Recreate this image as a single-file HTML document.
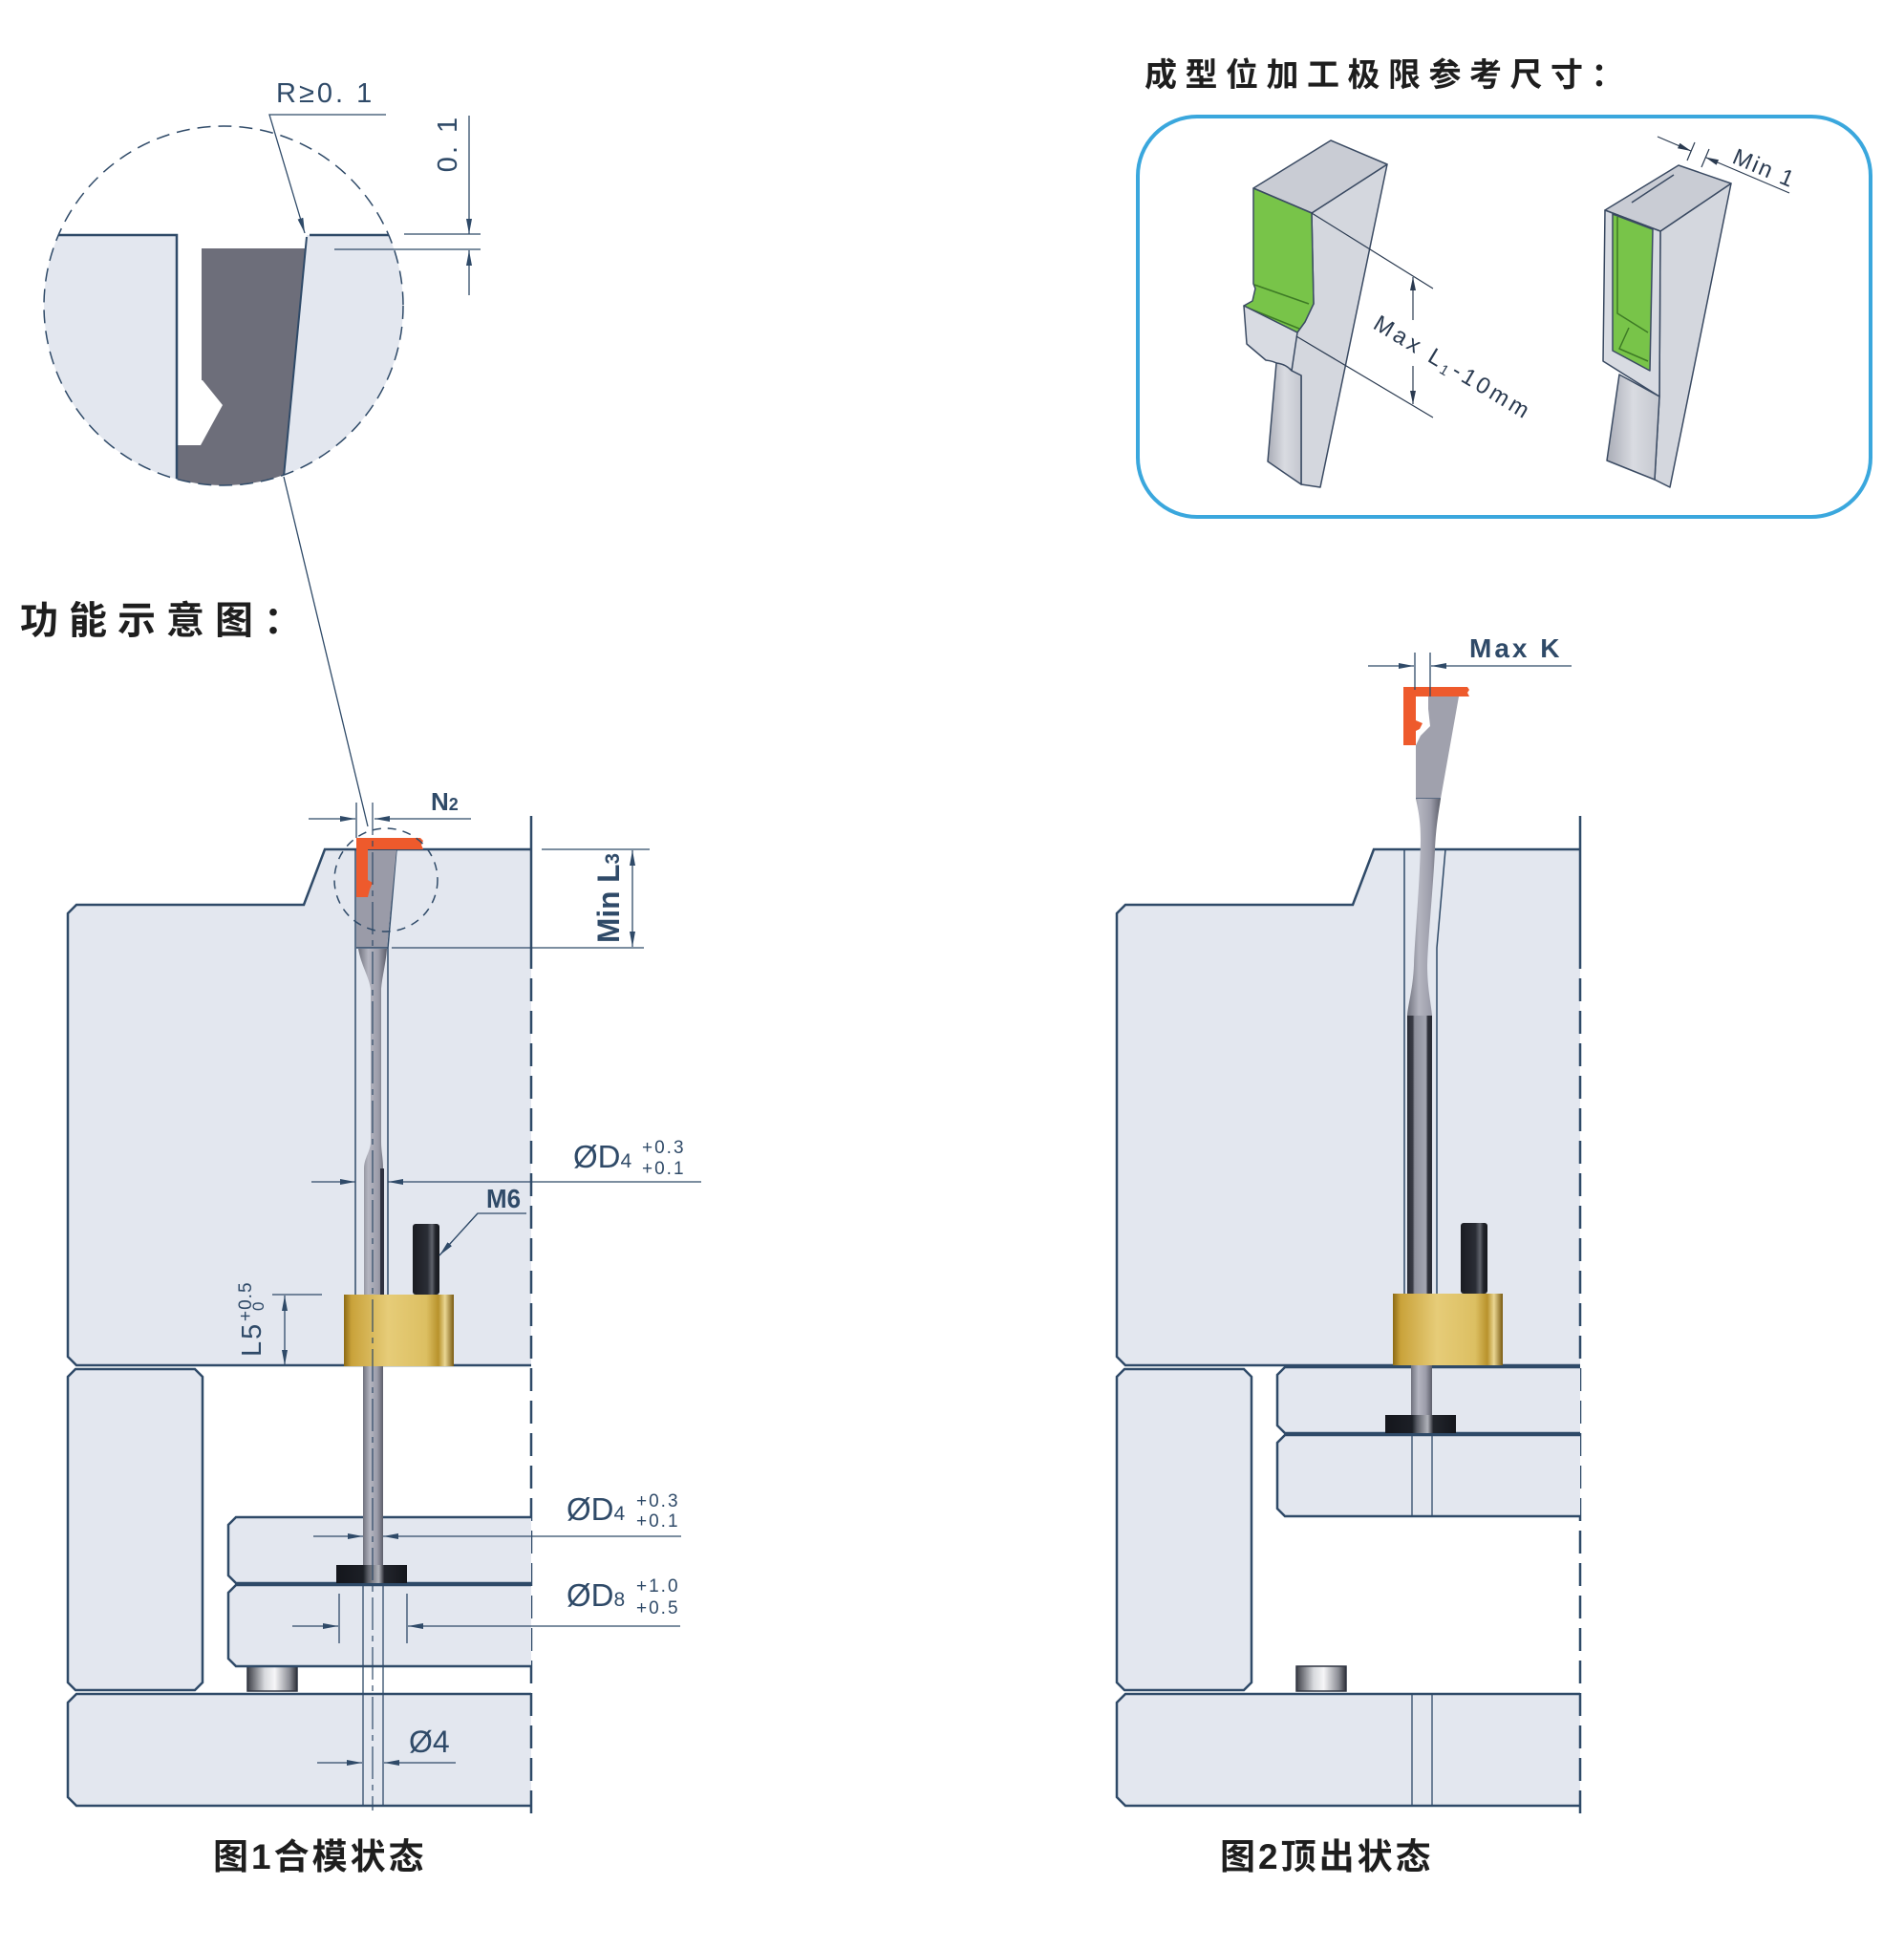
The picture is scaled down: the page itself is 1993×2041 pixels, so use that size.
<!DOCTYPE html>
<html><head><meta charset="utf-8"><style>
html,body{margin:0;padding:0;background:#fff;}
svg{display:block;}
</style></head><body>
<svg width="1993" height="2041" viewBox="0 0 1993 2041" xmlns="http://www.w3.org/2000/svg" font-family="'Liberation Sans','Noto Sans CJK SC',sans-serif">
<defs>
<marker id="ar" viewBox="0 0 16 6" refX="16" refY="3" markerWidth="16" markerHeight="6" markerUnits="userSpaceOnUse" orient="auto"><path d="M0,0 L16,3 L0,6 Z" fill="#2f4a68"/></marker>
<marker id="ar2" viewBox="0 0 14 6" refX="14" refY="3" markerWidth="14" markerHeight="6" markerUnits="userSpaceOnUse" orient="auto"><path d="M0,0 L14,3 L0,6 Z" fill="#2a3a50"/></marker>
<linearGradient id="gold" x1="0" x2="1" y1="0" y2="0">
 <stop offset="0" stop-color="#8c6a14"/><stop offset="0.07" stop-color="#c9a23a"/><stop offset="0.4" stop-color="#e6cc78"/><stop offset="0.75" stop-color="#dcbf62"/><stop offset="0.86" stop-color="#b8922c"/><stop offset="0.92" stop-color="#ead692"/><stop offset="1" stop-color="#7a5a10"/>
</linearGradient>
<linearGradient id="bolt" x1="0" x2="1"><stop offset="0" stop-color="#1a1c22"/><stop offset="0.55" stop-color="#2a2d35"/><stop offset="0.72" stop-color="#60636c"/><stop offset="0.85" stop-color="#22252c"/><stop offset="1" stop-color="#15171c"/></linearGradient>
<linearGradient id="pin" x1="0" x2="1"><stop offset="0" stop-color="#6f717d"/><stop offset="0.35" stop-color="#b4b5c0"/><stop offset="0.7" stop-color="#9c9daa"/><stop offset="1" stop-color="#5c5e6a"/></linearGradient>
<linearGradient id="rod" x1="0" x2="1"><stop offset="0" stop-color="#2a2c35"/><stop offset="0.22" stop-color="#3a3c46"/><stop offset="0.3" stop-color="#8e909c"/><stop offset="0.75" stop-color="#a4a6b2"/><stop offset="0.83" stop-color="#2e3039"/><stop offset="1" stop-color="#2a2c35"/></linearGradient>
<linearGradient id="head" x1="0" x2="1"><stop offset="0" stop-color="#14161c"/><stop offset="0.38" stop-color="#1c1f26"/><stop offset="0.45" stop-color="#5a5d66"/><stop offset="0.6" stop-color="#b0b2ba"/><stop offset="0.68" stop-color="#22252c"/><stop offset="1" stop-color="#14161c"/></linearGradient>
<linearGradient id="stopg" x1="0" x2="1"><stop offset="0" stop-color="#3c3e46"/><stop offset="0.35" stop-color="#d8dade"/><stop offset="0.55" stop-color="#f6f6f8"/><stop offset="0.85" stop-color="#8a8c94"/><stop offset="1" stop-color="#2e3038"/></linearGradient>
<linearGradient id="shank" x1="0" x2="1"><stop offset="0" stop-color="#a9acb6"/><stop offset="0.5" stop-color="#d9dbe1"/><stop offset="1" stop-color="#c4c7cf"/></linearGradient>
<clipPath id="cc"><circle cx="234" cy="320" r="188"/></clipPath>

<g id="blk">
 <path d="M556,889 L340,889 L318,947 L80,947 L71,956 L71,1420 L80,1429 L556,1429 Z" fill="#e3e7ef"/>
 <path d="M556,889 L340,889 L318,947 L80,947 L71,956 L71,1420 L80,1429 L556,1429" fill="none" stroke="#2f4a68" stroke-width="2.5"/>
 <path d="M79,1433 L204,1433 L212,1441 L212,1761 L204,1769 L79,1769 L71,1761 L71,1441 Z" fill="#e3e7ef" stroke="#2f4a68" stroke-width="2.5"/>
 <path d="M556,1773 L80,1773 L71,1782 L71,1881 L80,1890 L556,1890 Z" fill="#e3e7ef"/>
 <path d="M556,1773 L80,1773 L71,1782 L71,1881 L80,1890 L556,1890" fill="none" stroke="#2f4a68" stroke-width="2.5"/>
 <line x1="556" y1="854" x2="556" y2="990" stroke="#2f4a68" stroke-width="2.5"/>
 <line x1="556" y1="990" x2="556" y2="1905" stroke="#2f4a68" stroke-width="2.5" stroke-dasharray="24 10"/>
 <path d="M372,889 V1355 M415,889 L406,992 V1355" stroke="#2f4a68" stroke-width="1.5" fill="none"/>
 <rect x="259" y="1744" width="52" height="26" fill="url(#stopg)" stroke="#2f3440" stroke-width="1.5"/>
</g>
<g id="plt">
 <path d="M556,1588 L247,1588 L239,1596 L239,1649 L247,1657 L556,1657 Z" fill="#e3e7ef"/>
 <path d="M556,1588 L247,1588 L239,1596 L239,1649 L247,1657 L556,1657" fill="none" stroke="#2f4a68" stroke-width="2.5"/>
 <path d="M556,1659 L247,1659 L239,1667 L239,1736 L247,1744 L556,1744 Z" fill="#e3e7ef"/>
 <path d="M556,1659 L247,1659 L239,1667 L239,1736 L247,1744 L556,1744" fill="none" stroke="#2f4a68" stroke-width="2.5"/>
</g>
</defs>

<!-- ============ Detail circle (top-left) ============ -->
<g clip-path="url(#cc)">
 <path d="M30,246 L185,246 L185,520 L30,520 Z" fill="#e3e7ef"/>
 <path d="M321,246 L440,246 L440,520 L295,520 Z" fill="#e3e7ef"/>
 <path d="M211,260 L319.7,260 L295,520 L185,520 L185,466 L210,466 L233,424 L212,398 L211,398 Z" fill="#6d6e7a"/>
 <path d="M61,246 H185 V520" fill="none" stroke="#2f4a68" stroke-width="2.5"/>
 <path d="M324,246 H412" fill="none" stroke="#2f4a68" stroke-width="2.5"/>
 <path d="M321,248 L295,520" fill="none" stroke="#2f4a68" stroke-width="2"/>
</g>
<circle cx="234" cy="320" r="188" fill="none" stroke="#2f4a68" stroke-width="1.5" stroke-dasharray="14 8"/>
<path d="M404,120 H282 L319,244" fill="none" stroke="#2f4a68" stroke-width="1.3" marker-end="url(#ar)"/>
<path d="M423,245 H503 M350,261 H503" fill="none" stroke="#2f4a68" stroke-width="1.3"/>
<line x1="491" y1="121" x2="491" y2="245" stroke="#2f4a68" stroke-width="1.3" marker-end="url(#ar)"/>
<line x1="491" y1="309" x2="491" y2="262" stroke="#2f4a68" stroke-width="1.3" marker-end="url(#ar)"/>
<text x="289" y="107" font-size="29" fill="#2f4a68" letter-spacing="3">R≥0. 1</text>
<text transform="translate(478,150) rotate(-90)" text-anchor="middle" font-size="29" fill="#2f4a68" letter-spacing="3">0. 1</text>
<line x1="297" y1="499" x2="385" y2="865" stroke="#2f4a68" stroke-width="1.3"/>

<!-- Titles -->
<text x="21" y="663" font-size="40" font-weight="bold" fill="#1e1e1e" letter-spacing="11">功能示意图：</text>
<text x="1198" y="90" font-size="34" font-weight="bold" fill="#1e1e1e" letter-spacing="8.5">成型位加工极限参考尺寸：</text>

<!-- ============ Blue box with 3D parts ============ -->
<rect x="1191" y="122" width="767" height="419" rx="62" ry="62" fill="#fff" stroke="#3aa7dd" stroke-width="4"/>

<g stroke="#3a4a62" stroke-width="1.5" stroke-linejoin="round">
 <path d="M1373,223 L1452,172 L1382,510 L1362,507 L1362,393 L1352,388 L1357,348 L1375,318 Z" fill="#d4d7de"/>
 <path d="M1312,197 L1393,147 L1452,172 L1373,223 Z" fill="#c9ccd4"/>
 <path d="M1312,197 L1373,223 L1375,318 L1366,337 L1358,348 L1302,320 L1311,315 L1314,302 L1312,297 Z" fill="#78c449"/>
 <path d="M1313,298 L1370,318" fill="none" stroke="#3d7a25"/>
 <path d="M1303,321 L1360,344" fill="none" stroke="#3d7a25"/>
 <path d="M1302,320 L1358,348 L1352,388 L1343,384 Q1335,378 1325,377 L1305,360 Z" fill="#d8dbe2"/>
 <path d="M1336,380 Q1346,381 1352,388 L1362,393 L1362,507 L1327,483 Z" fill="url(#shank)"/>
</g>
<g stroke="#3a4a62" stroke-width="1.5" stroke-linejoin="round">
 <path d="M1738,242 L1812,192 L1748,510 L1732,502 L1737,415 Z" fill="#d4d7de"/>
 <path d="M1680,220 L1757,173 L1812,192 L1738,242 Z" fill="#c9ccd4"/>
 <path d="M1680,220 L1738,242 L1737,415 L1678,378 Z" fill="#d8dbe2"/>
 <path d="M1688,224 L1730,240 L1727,388 L1688,367 Z" fill="#78c449"/>
 <path d="M1693,227 L1693,328 L1725,348 M1705,343 L1695,365 L1725,378" fill="none" stroke="#3d7a25"/>
 <path d="M1695,392 L1737,415 L1732,502 L1682,482 Z" fill="url(#shank)"/>
 <path d="M1708,212 L1752,183" fill="none"/>
</g>
<!-- 3D dims -->
<g stroke="#2a3a50" stroke-width="1.2" fill="none">
 <path d="M1373,223 L1500,302 M1357,352 L1500,437"/>
 <line x1="1479" y1="335" x2="1479" y2="290" marker-end="url(#ar2)"/>
 <line x1="1479" y1="383" x2="1479" y2="423" marker-end="url(#ar2)"/>
 <line x1="1735" y1="143" x2="1770" y2="158" marker-end="url(#ar2)"/>
 <line x1="1873" y1="202" x2="1785" y2="164.5" marker-end="url(#ar2)"/>
 <path d="M1766,168 L1774,149 M1781,175 L1789,156"/>
</g>
<text transform="translate(1436,343) rotate(31)" font-size="24" fill="#2a3a50" textLength="185" lengthAdjust="spacing">Max  L<tspan font-size="15" dy="4">1</tspan><tspan dy="-4">-10mm</tspan></text>
<text transform="translate(1812,170) rotate(23)" font-size="24" fill="#2a3a50" letter-spacing="2">Min 1</text>

<!-- ============ LEFT FIGURE ============ -->
<use href="#blk"/>
<use href="#plt"/>
<path d="M380,1659 V1890 M401,1659 V1890" stroke="#2f4a68" stroke-width="1.3" fill="none"/>
<path d="M373,890 L415,890 L405,992 L373,992 Z" fill="#9a9ba8"/>
<line x1="373" y1="992" x2="406" y2="992" stroke="#2f4a68" stroke-width="1.5"/>
<path d="M375,993 C378,1010 386,1022 388,1035 L388,1195 C388,1205 381,1212 381,1223 L381,1355 L401,1355 L401,1223 C401,1212 399,1205 399,1195 L399,1035 C400,1022 404,1008 405,993 Z" fill="url(#pin)"/>
<rect x="398" y="1223" width="4" height="132" fill="#2e3140"/>
<path d="M373,877 L440,877 L443,880 L441,884 L443,889 L385,889 L385,921 L390,924 L387,931 L385,939 L373,939 Z" fill="#ee5a2c"/>
<circle cx="404" cy="921" r="54" fill="none" stroke="#2f4a68" stroke-width="1.5" stroke-dasharray="9 7"/>
<rect x="380" y="1430" width="21" height="208" fill="url(#pin)"/>
<rect x="352" y="1638" width="74" height="19" fill="url(#head)"/>
<rect x="432" y="1281" width="28" height="74" rx="3" fill="url(#bolt)"/>
<rect x="360" y="1355" width="115" height="75" fill="url(#gold)"/>
<line x1="390" y1="840" x2="390" y2="1895" stroke="#2f4a68" stroke-width="1.2" stroke-dasharray="34 6 6 6"/>

<g stroke="#2f4a68" stroke-width="1.3" fill="none">
 <line x1="373" y1="840" x2="373" y2="877"/>
 <line x1="323" y1="857" x2="372" y2="857" marker-end="url(#ar)"/>
 <line x1="493" y1="857" x2="392" y2="857" marker-end="url(#ar)"/>
 <path d="M567,889 H680 M410,992 H674"/>
 <line x1="662" y1="940" x2="662" y2="890" marker-end="url(#ar)"/>
 <line x1="662" y1="940" x2="662" y2="991" marker-end="url(#ar)"/>
 <line x1="326" y1="1237" x2="372" y2="1237" marker-end="url(#ar)"/>
 <line x1="734" y1="1237" x2="406" y2="1237" marker-end="url(#ar)"/>
 <path d="M551,1270 H500 L460,1314"/>
 <line x1="500" y1="1270" x2="460" y2="1314" marker-end="url(#ar)"/>
 <path d="M285,1355 H337"/>
 <line x1="298" y1="1392" x2="298" y2="1356" marker-end="url(#ar)"/>
 <line x1="298" y1="1392" x2="298" y2="1429" marker-end="url(#ar)"/>
 <line x1="328" y1="1608" x2="380" y2="1608" marker-end="url(#ar)"/>
 <line x1="713" y1="1608" x2="401" y2="1608" marker-end="url(#ar)"/>
 <path d="M355,1668 V1720 M426,1668 V1720"/>
 <line x1="306" y1="1702" x2="354" y2="1702" marker-end="url(#ar)"/>
 <line x1="712" y1="1702" x2="427" y2="1702" marker-end="url(#ar)"/>
 <line x1="332" y1="1845" x2="379" y2="1845" marker-end="url(#ar)"/>
 <line x1="477" y1="1845" x2="402" y2="1845" marker-end="url(#ar)"/>
</g>
<g fill="#2f4a68">
 <text x="451" y="848" font-size="26" font-weight="bold">N<tspan font-size="18">2</tspan></text>
 <text transform="translate(648,940) rotate(-90)" text-anchor="middle" font-size="32" font-weight="bold" textLength="94" lengthAdjust="spacingAndGlyphs">Min L<tspan font-size="21">3</tspan></text>
 <text x="600" y="1222" font-size="33">ØD<tspan font-size="21">4</tspan></text>
 <text x="672" y="1207" font-size="19" letter-spacing="2">+0.3</text>
 <text x="672" y="1229" font-size="19" letter-spacing="2">+0.1</text>
 <text x="509" y="1264" font-size="28" font-weight="bold" textLength="36" lengthAdjust="spacingAndGlyphs">M6</text>
 <g transform="translate(273,1420) rotate(-90)">
  <text x="0" y="0" font-size="29" letter-spacing="2">L5</text>
  <text x="37" y="-10" font-size="19" letter-spacing="1">+0.5</text>
  <text x="48" y="3" font-size="17">0</text>
 </g>
 <text x="593" y="1591" font-size="33">ØD<tspan font-size="21">4</tspan></text>
 <text x="666" y="1577" font-size="19" letter-spacing="2">+0.3</text>
 <text x="666" y="1598" font-size="19" letter-spacing="2">+0.1</text>
 <text x="593" y="1681" font-size="33">ØD<tspan font-size="21">8</tspan></text>
 <text x="666" y="1666" font-size="19" letter-spacing="2">+1.0</text>
 <text x="666" y="1689" font-size="19" letter-spacing="2">+0.5</text>
 <text x="428" y="1834" font-size="32">Ø4</text>
</g>
<text x="223" y="1956" font-size="37" font-weight="bold" fill="#1e1e1e" letter-spacing="3">图1合模状态</text>

<!-- ============ RIGHT FIGURE ============ -->
<use href="#blk" transform="translate(1098,0)"/>
<use href="#plt" transform="translate(1098,-157)"/>
<path d="M1478,1502 V1587 M1499,1502 V1587 M1478,1773 V1890 M1499,1773 V1890" stroke="#2f4a68" stroke-width="1.3" fill="none"/>
<path d="M1495,729 L1527,729 L1508,836 L1482,836 L1482,780 L1487,770 L1497,760 L1495,742 Z" fill="#a0a1ad"/>
<line x1="1482" y1="836" x2="1508" y2="836" stroke="#2f4a68" stroke-width="1.3"/>
<path d="M1482,836 C1485,850 1487,860 1487,880 C1486,930 1481,980 1480,1010 C1479,1035 1474,1050 1473,1063 L1499,1063 C1498,1050 1494,1035 1494,1010 C1495,980 1500,930 1502,890 C1503,865 1506,850 1508,836 Z" fill="url(#pin)"/>
<rect x="1473" y="1063" width="26" height="292" fill="url(#rod)"/>
<rect x="1477" y="1429" width="22" height="52" fill="url(#pin)"/>
<rect x="1450" y="1481" width="74" height="19" fill="url(#head)"/>
<path d="M1469,719 L1536,719 L1538,722 L1536,725 L1538,729 L1482,729 L1482,754 L1489,757 L1486,763 L1482,765 L1482,780 L1469,780 Z" fill="#ee5a2c"/>
<rect x="1529" y="1280" width="28" height="74" rx="3" fill="url(#bolt)"/>
<rect x="1458" y="1354" width="115" height="75" fill="url(#gold)"/>
<g stroke="#2f4a68" stroke-width="1.3" fill="none">
 <path d="M1481,683 V722 M1497,683 V729"/>
 <line x1="1432" y1="697" x2="1480" y2="697" marker-end="url(#ar)"/>
 <line x1="1645" y1="697" x2="1498" y2="697" marker-end="url(#ar)"/>
</g>
<text x="1538" y="688" font-size="28" font-weight="bold" fill="#2f4a68" letter-spacing="3">Max K</text>
<text x="1277" y="1956" font-size="37" font-weight="bold" fill="#1e1e1e" letter-spacing="3">图2顶出状态</text>
</svg>
</body></html>
